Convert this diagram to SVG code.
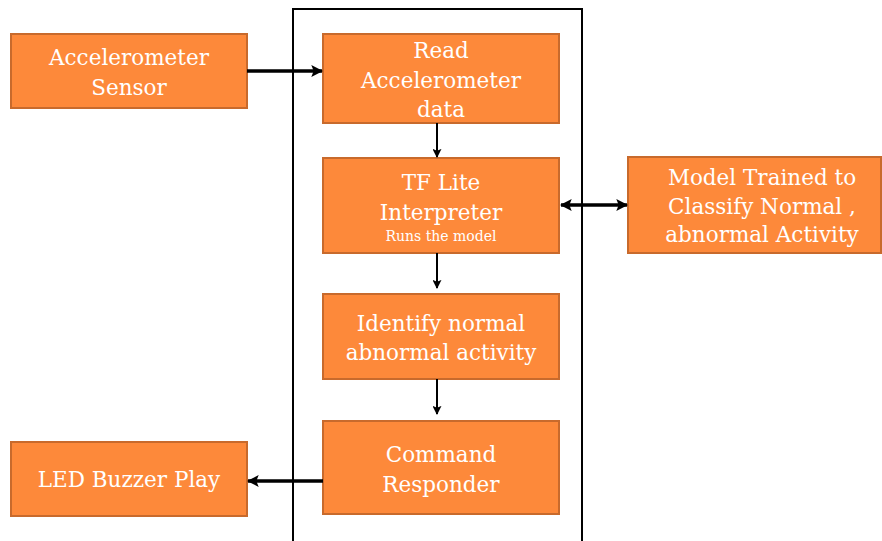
<svg xmlns="http://www.w3.org/2000/svg" width="882" height="541" viewBox="0 0 882 541">
  <style>
    .box { fill: #FD893A; stroke: #C86A2C; stroke-width: 2; }
    .lbl { font-family: "DejaVu Serif", "Liberation Serif", serif; font-size: 21.5px; fill: #FFFFFF; text-anchor: middle; }
    .small { font-size: 14px; }
    .frame { fill: none; stroke: #000000; stroke-width: 2; }
    .thick { stroke: #000000; stroke-width: 3.5; fill: none; }
    .thin { stroke: #000000; stroke-width: 2; fill: none; }
  </style>
  <defs>
    <marker id="head" viewBox="0 0 10 10" refX="9" refY="5" markerWidth="3.4" markerHeight="3.4" orient="auto-start-reverse">
      <path d="M0,0 L10,5 L0,10 L2,5 Z" fill="#000000"/>
    </marker>
    <marker id="headThin" viewBox="0 0 10 10" refX="9" refY="5" markerWidth="4.5" markerHeight="4.5" orient="auto">
      <path d="M0,0 L10,5 L0,10 L2,5 Z" fill="#000000"/>
    </marker>
  </defs>

  <rect width="882" height="541" fill="#FFFFFF"/>

  <!-- device frame enclosing the on-board pipeline -->
  <rect class="frame" x="293" y="9" width="289" height="540"/>

  <g id="accelerometer-sensor">
    <rect class="box" x="11" y="34" width="236" height="74"/>
    <text class="lbl" x="129" y="65">Accelerometer</text>
    <text class="lbl" x="129" y="95">Sensor</text>
  </g>

  <g id="read-data">
    <rect class="box" x="323" y="34" width="236" height="89"/>
    <text class="lbl" x="441" y="58">Read</text>
    <text class="lbl" x="441" y="88">Accelerometer</text>
    <text class="lbl" x="441" y="117">data</text>
  </g>

  <g id="tflite-interpreter">
    <rect class="box" x="323" y="158" width="236" height="95"/>
    <text class="lbl" x="441" y="190">TF Lite</text>
    <text class="lbl" x="441" y="220">Interpreter</text>
    <text class="lbl small" x="441" y="241">Runs the model</text>
  </g>

  <g id="trained-model">
    <rect class="box" x="628" y="157" width="253" height="96"/>
    <text class="lbl" x="762" y="185">Model Trained to</text>
    <text class="lbl" x="762" y="214">Classify Normal ,</text>
    <text class="lbl" x="762" y="242">abnormal Activity</text>
  </g>

  <g id="identify-activity">
    <rect class="box" x="323" y="294" width="236" height="85"/>
    <text class="lbl" x="441" y="331">Identify normal</text>
    <text class="lbl" x="441" y="360">abnormal activity</text>
  </g>

  <g id="command-responder">
    <rect class="box" x="323" y="421" width="236" height="93"/>
    <text class="lbl" x="441" y="462">Command</text>
    <text class="lbl" x="441" y="492">Responder</text>
  </g>

  <g id="led-buzzer">
    <rect class="box" x="11" y="442" width="236" height="74"/>
    <text class="lbl" x="129" y="487">LED Buzzer Play</text>
  </g>

  <g id="connectors">
    <line class="thick" x1="247" y1="71" x2="322" y2="71" marker-end="url(#head)"/>
    <line class="thin" x1="437" y1="123" x2="437" y2="157" marker-end="url(#headThin)"/>
    <line class="thick" x1="561" y1="205" x2="627" y2="205" marker-start="url(#head)" marker-end="url(#head)"/>
    <line class="thin" x1="437" y1="253" x2="437" y2="288" marker-end="url(#headThin)"/>
    <line class="thin" x1="437" y1="379" x2="437" y2="414" marker-end="url(#headThin)"/>
    <line class="thick" x1="323" y1="481" x2="248" y2="481" marker-end="url(#head)"/>
  </g>
</svg>
